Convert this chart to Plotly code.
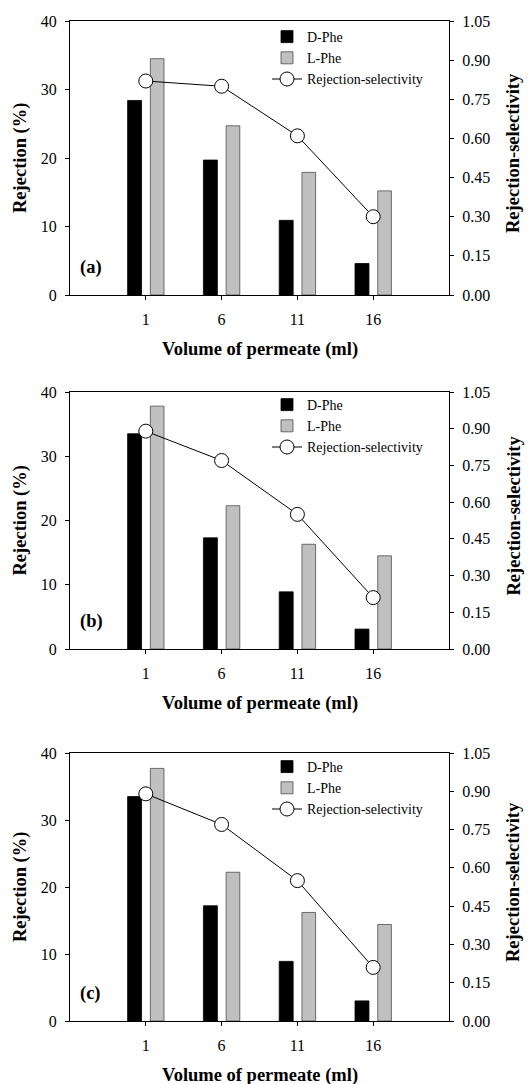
import plotly.graph_objects as go
from plotly.subplots import make_subplots

volume = [1, 6, 11, 16]
x_ticks = [1, 6, 11, 16]

d_phe_a = [28.4, 19.7, 10.9, 4.6]
l_phe_a = [34.5, 24.7, 17.9, 15.2]
sel_a = [0.82, 0.80, 0.61, 0.30]

d_phe_b = [33.5, 17.3, 8.9, 3.1]
l_phe_b = [37.8, 22.3, 16.3, 14.5]
sel_b = [0.89, 0.77, 0.55, 0.21]

d_phe_c = [33.5, 17.2, 8.9, 3.0]
l_phe_c = [37.7, 22.2, 16.2, 14.4]
sel_c = [0.89, 0.77, 0.55, 0.21]

panel_labels = ["(a)", "(b)", "(c)"]
left_ticks = [0, 10, 20, 30, 40]
right_ticks = [0.0, 0.15, 0.30, 0.45, 0.60, 0.75, 0.90, 1.05]

FONT = "Liberation Serif, Times New Roman, serif"
W, H = 530, 1084
ML, MR, MT, MB = 70, 81, 21, 63
PH = H - MT - MB  # 1000

# panel pixel extents (top, bottom) in figure px
panels_px = [(21, 295), (392, 649), (753, 1021)]
domains = [[1 - (b - MT) / PH, 1 - (t - MT) / PH] for t, b in panels_px]

fig = make_subplots(rows=3, cols=1, specs=[[{"secondary_y": True}]] * 3,
                    vertical_spacing=0.05)

data = [(d_phe_a, l_phe_a, sel_a), (d_phe_b, l_phe_b, sel_b), (d_phe_c, l_phe_c, sel_c)]
legend_names = ["legend", "legend2", "legend3"]
legend_tops = [21, 389, 751]

for i, (d, l, s) in enumerate(data):
    row = i + 1
    lg = legend_names[i]
    fig.add_trace(go.Bar(x=volume, y=d, name="D-Phe", width=0.92, offset=-1.2,
                         marker=dict(color="black", line=dict(color="black", width=0.8)),
                         legend=lg), row=row, col=1, secondary_y=False)
    fig.add_trace(go.Bar(x=volume, y=l, name="L-Phe", width=0.9, offset=0.3,
                         marker=dict(color="#c0c0c0", line=dict(color="#4d4d4d", width=0.8)),
                         legend=lg), row=row, col=1, secondary_y=False)
    fig.add_trace(go.Scatter(x=volume, y=s, name="Rejection-selectivity", mode="lines+markers",
                             line=dict(color="black", width=1),
                             marker=dict(size=14, color="white", line=dict(color="black", width=1)),
                             legend=lg), row=row, col=1, secondary_y=True)

layout_updates = {}
for i in range(3):
    xa = "xaxis" if i == 0 else f"xaxis{i+1}"
    ya = "yaxis" if i == 0 else f"yaxis{2*i+1}"
    ya2 = f"yaxis{2*i+2}"
    layout_updates[xa] = dict(domain=[0, 1], range=[-4, 21], tickvals=x_ticks,
                              ticks="outside", ticklen=4, tickcolor="black",
                              showline=True, linecolor="black", linewidth=1, mirror=True,
                              showgrid=False, zeroline=False, ticklabelstandoff=6,
                              tickfont=dict(family=FONT, size=16, color="black"))
    layout_updates[ya] = dict(domain=domains[i], range=[0, 40], tickvals=left_ticks,
                              ticks="outside", ticklen=4, tickcolor="black",
                              showline=True, linecolor="black", linewidth=1,
                              showgrid=False, zeroline=False, ticklabelstandoff=5,
                              tickfont=dict(family=FONT, size=16, color="black"))
    layout_updates[ya2] = dict(domain=domains[i], range=[0, 1.05], tickvals=right_ticks,
                               ticktext=[f"{v:.2f}" for v in right_ticks],
                               ticks="outside", ticklen=4, tickcolor="black",
                               showline=True, linecolor="black", linewidth=1,
                               showgrid=False, zeroline=False, ticklabelstandoff=5,
                               tickfont=dict(family=FONT, size=16, color="black"))
    layout_updates[legend_names[i]] = dict(
        x=(267 - ML) / (W - ML - MR), xanchor="left",
        y=1 - (legend_tops[i] - MT) / PH, yanchor="top",
        bgcolor="rgba(0,0,0,0)", borderwidth=0, traceorder="normal",
        font=dict(family=FONT, size=14, color="black"), tracegroupgap=0)

fig.update_layout(**layout_updates)

annotations = []
for i, (t, b) in enumerate(panels_px):
    ya = "y" if i == 0 else f"y{2*i+1}"
    xa = "x" if i == 0 else f"x{i+1}"
    mid = (t + b) / 2
    annotations.append(dict(text="<b>Rejection (%)</b>", textangle=-90, xref="paper", yref="paper",
                            x=(20 - ML) / (W - ML - MR), y=1 - (mid - MT) / PH,
                            xanchor="center", yanchor="middle", showarrow=False,
                            font=dict(family=FONT, size=18.5, color="black")))
    annotations.append(dict(text="<b>Rejection-selectivity</b>", textangle=-90, xref="paper", yref="paper",
                            x=(513 - ML) / (W - ML - MR), y=1 - (mid - 5 - MT) / PH,
                            xanchor="center", yanchor="middle", showarrow=False,
                            font=dict(family=FONT, size=18.5, color="black")))
    annotations.append(dict(text="<b>Volume of permeate (ml)</b>", xref="paper", yref="paper",
                            x=0.5, y=1 - (b + 54 - MT) / PH,
                            xanchor="center", yanchor="middle", showarrow=False,
                            font=dict(family=FONT, size=18.5, color="black")))
    annotations.append(dict(text=f"<b>{panel_labels[i]}</b>", xref=f"{xa} domain", yref=f"{ya} domain",
                            x=(78 - ML) / (W - ML - MR), y=27.5 / (b - t),
                            xanchor="left", yanchor="middle", showarrow=False,
                            font=dict(family=FONT, size=18.5, color="black")))

fig.update_layout(
    width=W, height=H,
    margin=dict(l=ML, r=MR, t=MT, b=MB, autoexpand=False),
    paper_bgcolor="white", plot_bgcolor="white",
    barmode="overlay", showlegend=True,
    font=dict(family=FONT, color="black"),
    annotations=annotations,
)

fig.write_html("out.html", config={"displayModeBar": False},
               post_script="document.body.style.margin='0';document.body.style.overflow='hidden';")
